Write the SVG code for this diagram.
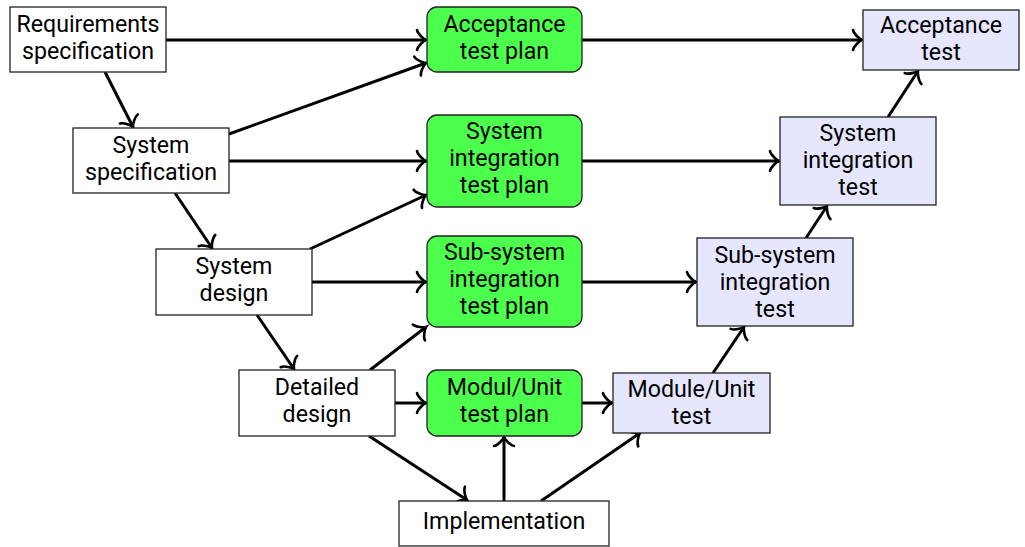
<svg xmlns="http://www.w3.org/2000/svg" width="1025" height="547" viewBox="0 0 1025 547">
<defs>
<style>
.n{stroke:#222;stroke-width:1.3}
.w{fill:#ffffff}
.g{fill:#4dff4d}
.b{fill:#e6e6ff}
text{font-family:Roboto,"Liberation Sans",sans-serif;font-size:23.2px;fill:#000;text-anchor:middle}
.e line{stroke:#000;stroke-width:3;fill:none;marker-end:url(#to)}
</style>
<marker id="to" markerUnits="userSpaceOnUse" viewBox="-12 -12 14 24" markerWidth="14" markerHeight="24" refX="0" refY="0" orient="auto" overflow="visible">
<path d="M -9,-10 C -8.4,-6 -1.9,-0.6 0,0 C -1.9,0.6 -8.4,6 -9,10" fill="none" stroke="#000" stroke-width="2.6" stroke-linecap="round"/>
</marker>
</defs>
<rect width="1025" height="547" fill="#ffffff"/>
<g id="connectors" class="e">
<line x1="166" y1="40" x2="426" y2="40"/>
<line x1="105" y1="72" x2="133" y2="127"/>
<line x1="229" y1="134" x2="426" y2="63"/>
<line x1="229" y1="161" x2="426" y2="161"/>
<line x1="175" y1="193" x2="212" y2="248"/>
<line x1="310" y1="249" x2="426" y2="195"/>
<line x1="312" y1="282" x2="426" y2="282"/>
<line x1="257" y1="315" x2="294" y2="369"/>
<line x1="370" y1="370" x2="426" y2="327"/>
<line x1="395" y1="403" x2="426" y2="403"/>
<line x1="369" y1="436" x2="467" y2="500"/>
<line x1="504" y1="501" x2="504" y2="437"/>
<line x1="541" y1="501" x2="640" y2="433"/>
<line x1="582" y1="403" x2="612" y2="403"/>
<line x1="713" y1="373" x2="744" y2="327"/>
<line x1="582" y1="282" x2="696" y2="282"/>
<line x1="806" y1="238" x2="827" y2="206"/>
<line x1="582" y1="161" x2="779" y2="161"/>
<line x1="888" y1="117" x2="918" y2="71"/>
<line x1="582" y1="40" x2="862" y2="40"/>
</g>
<g id="req-spec">
<rect class="n w" x="10" y="7" width="156" height="65"/>
<text x="88" y="32">Requirements</text>
<text x="88" y="59">specification</text>
</g>
<g id="sys-spec">
<rect class="n w" x="73" y="128" width="156" height="65"/>
<text x="151" y="153">System</text>
<text x="151" y="180">specification</text>
</g>
<g id="sys-design">
<rect class="n w" x="156" y="249" width="156" height="66"/>
<text x="234" y="274">System</text>
<text x="234" y="301">design</text>
</g>
<g id="det-design">
<rect class="n w" x="239" y="370" width="156" height="66"/>
<text x="317" y="395">Detailed</text>
<text x="317" y="422">design</text>
</g>
<g id="implementation">
<rect class="n w" x="399" y="501" width="210" height="45"/>
<text x="504" y="529">Implementation</text>
</g>
<g id="acc-test-plan">
<rect class="n g" x="427" y="7" width="155" height="65" rx="10"/>
<text x="504.5" y="32">Acceptance</text>
<text x="504.5" y="59">test plan</text>
</g>
<g id="sys-int-test-plan">
<rect class="n g" x="427" y="115" width="155" height="92" rx="10"/>
<text x="504.5" y="139">System</text>
<text x="504.5" y="166">integration</text>
<text x="504.5" y="193">test plan</text>
</g>
<g id="subsys-int-test-plan">
<rect class="n g" x="427" y="236" width="155" height="91" rx="10"/>
<text x="504.5" y="260">Sub-system</text>
<text x="504.5" y="287">integration</text>
<text x="504.5" y="314">test plan</text>
</g>
<g id="unit-test-plan">
<rect class="n g" x="427" y="370" width="155" height="66" rx="10"/>
<text x="504.5" y="395">Modul/Unit</text>
<text x="504.5" y="422">test plan</text>
</g>
<g id="acc-test">
<rect class="n b" x="863" y="10" width="156" height="60"/>
<text x="941" y="33">Acceptance</text>
<text x="941" y="60">test</text>
</g>
<g id="sys-int-test">
<rect class="n b" x="780" y="117" width="156" height="88"/>
<text x="858" y="141">System</text>
<text x="858" y="168">integration</text>
<text x="858" y="195">test</text>
</g>
<g id="subsys-int-test">
<rect class="n b" x="697" y="238" width="156" height="88"/>
<text x="775" y="263">Sub-system</text>
<text x="775" y="290">integration</text>
<text x="775" y="317">test</text>
</g>
<g id="unit-test">
<rect class="n b" x="613" y="373" width="157" height="60"/>
<text x="691.5" y="397">Module/Unit</text>
<text x="691.5" y="424">test</text>
</g>
</svg>
